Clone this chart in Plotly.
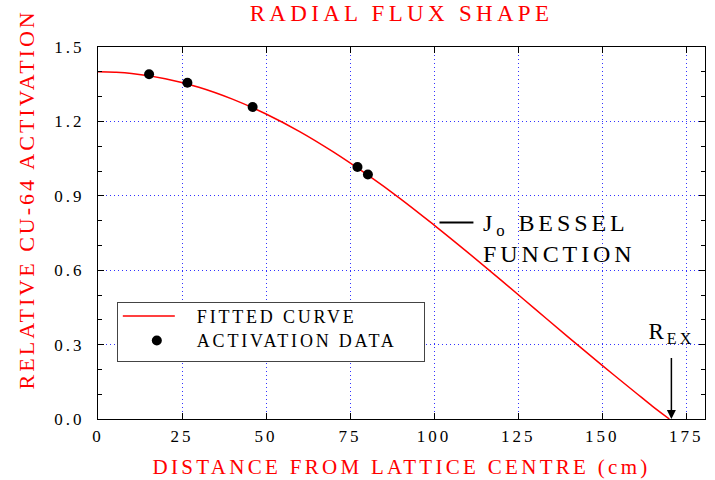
import plotly.graph_objects as go

# Fitted J0 Bessel curve
curve_x = [0, 5, 10, 20, 30, 40, 50, 60, 70, 80, 90, 100, 110, 120, 130, 140, 150, 160, 165, 170]
curve_y = [1.400, 1.398, 1.393, 1.372, 1.338, 1.290, 1.230, 1.159, 1.077, 0.986, 0.888,
           0.782, 0.672, 0.559, 0.444, 0.329, 0.216, 0.106, 0.051, 0.000]

# Activation data points
data_x = [15.2, 26.6, 46.0, 77.2, 80.3]
data_y = [1.390, 1.356, 1.258, 1.016, 0.986]

x_ticks = [0, 25, 50, 75, 100, 125, 150, 175]
y_ticks = [0.0, 0.3, 0.6, 0.9, 1.2, 1.5]

SERIF = "Liberation Serif"
RED = "#ff0000"
GRID = "#3333ff"

fig = go.Figure()
fig.add_trace(go.Scatter(x=curve_x, y=curve_y, mode="lines", name="FITTED CURVE",
                         line=dict(color=RED, width=1.5, shape="spline")))
fig.add_trace(go.Scatter(x=data_x, y=data_y, mode="markers", name="ACTIVATION DATA",
                         marker=dict(color="black", size=10)))

axis_common = dict(showline=True, linecolor="black", linewidth=1, mirror="ticks",
                   ticks="inside", tickcolor="black", ticklen=6,
                   showgrid=True, gridcolor=GRID, gridwidth=1, griddash="1px,3px",
                   zeroline=False, tickfont=dict(family=SERIF, size=17, color="black"))

fig.update_xaxes(range=[0, 180.6], tickvals=x_ticks, ticklabelstandoff=2, **axis_common)
fig.update_yaxes(range=[0, 1.5], tickvals=y_ticks, tickformat=".1f", ticklabelstandoff=9,
                 minor=dict(dtick=0.1, ticks="inside", ticklen=4, tickcolor="black", showgrid=False),
                 **axis_common)

fig.update_layout(
    width=715, height=480,
    margin=dict(l=98, r=10, t=47, b=61),
    paper_bgcolor="white", plot_bgcolor="white",
    title=dict(text="RADIAL FLUX SHAPE", x=0.5, xref="paper", xanchor="center",
               y=0.972, yref="container", yanchor="middle",
               font=dict(family=SERIF, size=23, color=RED)),
    legend=dict(x=0.031, y=0.315, xanchor="left", yanchor="top",
                bgcolor="white", bordercolor="#444", borderwidth=1,
                itemwidth=52, font=dict(family=SERIF, size=18, color="black")),
    showlegend=True,
    annotations=[
        dict(text="RELATIVE CU-64 ACTIVATION", xref="paper", yref="paper",
             x=-0.119, y=0.591, textangle=-90, showarrow=False,
             xanchor="center", yanchor="middle",
             font=dict(family=SERIF, size=22, color=RED)),
        dict(text="DISTANCE FROM LATTICE CENTRE (cm)", xref="paper", yref="paper",
             x=0.5, y=-0.129, showarrow=False, xanchor="center", yanchor="middle",
             font=dict(family=SERIF, size=21, color=RED)),
        dict(text="J<sub>o</sub> BESSEL<br>FUNCTION", xref="x", yref="y",
             x=114.1, y=0.851, showarrow=False, xanchor="left", yanchor="top", align="left",
             font=dict(family=SERIF, size=24, color="black")),
        dict(text="R<sub>EX</sub>", xref="x", yref="y", x=170.6, y=0.0, ax=0, ay=-70,
             showarrow=True, arrowhead=2, arrowsize=1.2, arrowwidth=1.5, arrowcolor="black",
             startstandoff=9, xanchor="center", yanchor="bottom",
             font=dict(family=SERIF, size=23, color="black")),
    ],
    shapes=[
        dict(type="line", xref="x", yref="y", x0=101.6, x1=111.7, y0=0.792, y1=0.792,
             line=dict(color="black", width=2)),
    ],
)

js = """
(function(){
  var gd = document.querySelector('.plotly-graph-div');
  function fix(){
    function sp(sel, v){ gd.querySelectorAll(sel).forEach(function(e){ e.style.letterSpacing = v; }); }
    sp('.gtitle', '4.3px');
    sp('.legendtext', '2.8px');
    sp('.xtick text', '3px');
    sp('.ytick text', '3px');
    var specs = {'0':'3px', '1':'3.3px', '2':'3.9px', '3':'3px'};
    gd.querySelectorAll('.annotation').forEach(function(a){
      var i = a.getAttribute('data-index');
      if (specs[i]) { a.querySelectorAll('text').forEach(function(t){ t.style.letterSpacing = specs[i]; }); }
    });
    var bg = gd.querySelector('.legend .bg');
    if (bg) { bg.setAttribute('width', 307); bg.setAttribute('height', 59); }
    document.querySelectorAll('clipPath[id^="legend"] rect').forEach(function(r){ r.setAttribute('width', 307); });
    var dys = [-5, -7];
    gd.querySelectorAll('.legend .traces').forEach(function(t, i){
      if (t.getAttribute('data-shifted')) { return; }
      var m = /translate\\(\\s*([-\\d.e]+)[ ,]+([-\\d.e]+)\\s*\\)/.exec(t.getAttribute('transform') || '');
      if (m) { t.setAttribute('transform', 'translate(' + m[1] + ',' + (parseFloat(m[2]) + (dys[i] || 0)) + ')'); }
      var sym = t.querySelector('.legendsymbols'); if (sym) { sym.setAttribute('transform', 'translate(8,0)'); }
      var tx = t.querySelector('.legendtext'); if (tx) { tx.setAttribute('x', parseFloat(tx.getAttribute('x') || 0) + 17); }
      t.setAttribute('data-shifted', '1');
    });
  }
  fix();
  if (gd.on) { gd.on('plotly_afterplot', fix); }
})();
"""

fig.write_html("out.html", post_script=js)
